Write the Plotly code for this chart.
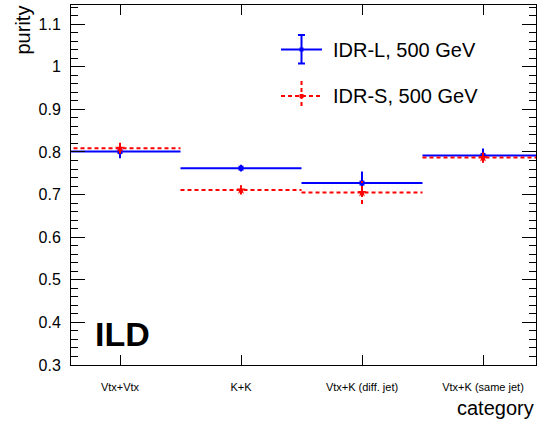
import plotly.graph_objects as go

# Purity per tag category for the two detector models
categories = ["Vtx+Vtx", "K+K", "Vtx+K (diff. jet)", "Vtx+K (same jet)"]
purity_idr_l = [0.801, 0.762, 0.727, 0.792]
err_idr_l = [0.016, 0.008, 0.027, 0.016]
purity_idr_s = [0.809, 0.711, 0.705, 0.787]
err_idr_s = [0.013, 0.011, 0.027, 0.012]

y_tick_vals = [0.3, 0.4, 0.5, 0.6, 0.7, 0.8, 0.9, 1.0, 1.1]
y_tick_text = ["0.3", "0.4", "0.5", "0.6", "0.7", "0.8", "0.9", "1", "1.1"]

FONT = "Liberation Sans, Arial, Helvetica, sans-serif"
BLUE = "#0000ff"
RED = "#ff0000"
DASH = "4px,3px"
BIN_HALF = 0.5

W, H = 537, 421
ML, MR, MT, MB = 71, 1, 5, 56


def bin_segments(values, errors):
    """Horizontal bin-width lines and vertical error bars, None-separated."""
    hx, hy, vx, vy = [], [], [], []
    for i, (v, e) in enumerate(zip(values, errors)):
        hx += [i - BIN_HALF, i + BIN_HALF, None]
        hy += [v, v, None]
        vx += [i, i, None]
        vy += [v - e, v + e, None]
    return hx, hy, vx, vy


fig = go.Figure()

for vals, errs, color, dash, symbol, msize in [
    (purity_idr_l, err_idr_l, BLUE, "solid", "square", 5),
    (purity_idr_s, err_idr_s, RED, DASH, "star", 7),
]:
    hx, hy, vx, vy = bin_segments(vals, errs)
    fig.add_trace(go.Scatter(x=hx, y=hy, mode="lines",
                             line=dict(color=color, width=2, dash=dash),
                             showlegend=False, hoverinfo="skip"))
    fig.add_trace(go.Scatter(x=vx, y=vy, mode="lines",
                             line=dict(color=color, width=2, dash=dash),
                             showlegend=False, hoverinfo="skip"))
    fig.add_trace(go.Scatter(x=list(range(len(vals))), y=vals, mode="markers",
                             marker=dict(color=color, symbol=symbol, size=msize,
                                         line=dict(width=0)),
                             showlegend=False))


# Hand-drawn legend (ROOT style: error-bar cross + label)
def px_x(p):
    return (p - ML) / (W - ML - MR)


def px_y(p):
    return (H - MB - p) / (H - MT - MB)


legend_rows = [
    ("IDR-L, 500 GeV", BLUE, "solid", 49.5, 35, 63.5, True),
    ("IDR-S, 500 GeV", RED, DASH, 96, 81, 109, False),
]
for label, color, dash, yc, y0, y1, caps in legend_rows:
    ln = dict(color=color, width=2, dash=dash)
    fig.add_shape(type="line", xref="paper", yref="paper",
                  x0=px_x(281), x1=px_x(322), y0=px_y(yc), y1=px_y(yc), line=ln)
    fig.add_shape(type="line", xref="paper", yref="paper",
                  x0=px_x(301.5), x1=px_x(301.5), y0=px_y(y0), y1=px_y(y1), line=ln)
    if caps:
        for yy in (y0, y1):
            fig.add_shape(type="line", xref="paper", yref="paper",
                          x0=px_x(298), x1=px_x(305), y0=px_y(yy), y1=px_y(yy),
                          line=dict(color=color, width=2))
    fig.add_shape(type="rect", xref="paper", yref="paper",
                  x0=px_x(299.5), x1=px_x(303.5), y0=px_y(yc - 2), y1=px_y(yc + 2),
                  line=dict(width=0), fillcolor=color)
    fig.add_annotation(text=label, xref="paper", yref="paper",
                       x=px_x(331), y=px_y(yc), xanchor="left", yanchor="middle",
                       showarrow=False, font=dict(family=FONT, size=20, color="black"))

# ILD label
fig.add_annotation(text="<b>ILD</b>", xref="paper", yref="paper",
                   x=px_x(93), y=px_y(334), xanchor="left", yanchor="middle",
                   showarrow=False, font=dict(family=FONT, size=34, color="black"))

# Axis titles
fig.add_annotation(text="purity", xref="paper", yref="paper",
                   x=px_x(22), y=px_y(4), xanchor="center", yanchor="top",
                   textangle=-90, showarrow=False,
                   font=dict(family=FONT, size=20, color="black"))
fig.add_annotation(text="category", xref="paper", yref="paper",
                   x=px_x(536), y=px_y(408), xanchor="right", yanchor="middle",
                   showarrow=False, font=dict(family=FONT, size=20, color="black"))

fig.update_layout(
    width=W, height=H,
    margin=dict(l=ML, r=MR, t=MT, b=MB),
    paper_bgcolor="white", plot_bgcolor="white",
    showlegend=False,
    font=dict(family=FONT, color="black"),
    xaxis=dict(
        range=[-0.405, 3.438],
        tickmode="array", tickvals=list(range(len(categories))), ticktext=categories,
        tickfont=dict(size=11), ticks="inside", ticklen=10, tickwidth=1,
        tickcolor="black", showline=True, linecolor="black", linewidth=1,
        mirror="ticks", showgrid=False, zeroline=False, ticklabelstandoff=12,
    ),
    yaxis=dict(
        range=[0.3, 1.145],
        tickmode="array", tickvals=y_tick_vals, ticktext=y_tick_text,
        tickfont=dict(size=16), ticks="inside", ticklen=14, tickwidth=1,
        tickcolor="black", showline=True, linecolor="black", linewidth=1,
        mirror="ticks", showgrid=False, zeroline=False, ticklabelstandoff=6,
        minor=dict(dtick=0.02, tick0=0.3, ticks="inside", ticklen=7,
                   tickcolor="black", tickwidth=1, showgrid=False),
    ),
)

fig.write_html("out.html")
